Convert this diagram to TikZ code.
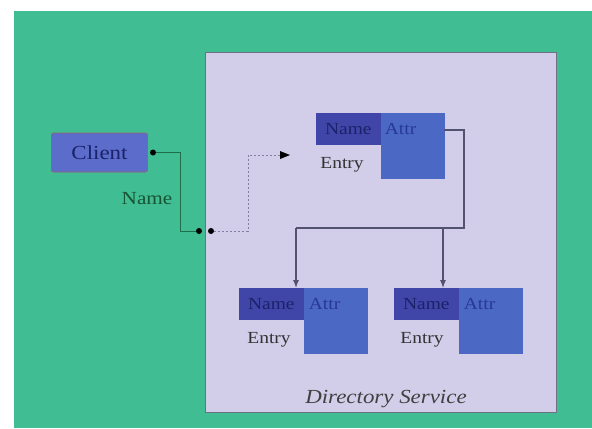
\documentclass[tikz,border=0pt]{standalone}
\usepackage{fontspec}
\setmainfont{Liberation Serif}[FakeStretch=1.15]
\usetikzlibrary{arrows.meta}

\definecolor{bggreen}{RGB}{65,189,147}
\definecolor{panel}{RGB}{210,205,232}
\definecolor{panelrim}{RGB}{112,112,132}
\definecolor{namefill}{RGB}{64,70,168}
\definecolor{attrfill}{RGB}{74,104,196}
\definecolor{clientfill}{RGB}{91,108,203}
\definecolor{clientrim}{RGB}{150,100,110}
\definecolor{navytext}{RGB}{26,34,105}
\definecolor{attrtext}{RGB}{40,56,150}
\definecolor{linkgreen}{RGB}{30,110,76}
\definecolor{labelgreen}{RGB}{22,84,52}
\definecolor{treeline}{RGB}{82,82,110}
\definecolor{dashgray}{RGB}{128,128,160}

\tikzset{
  namebox/.style={draw=namefill, line width=0.6bp, fill=namefill, minimum width=64bp, minimum height=31bp,
    inner sep=0pt, font=\fontsize{17}{17}\selectfont, text=navytext},
  attrbox/.style={draw=attrfill, line width=0.6bp, fill=attrfill, minimum width=63bp, minimum height=65bp,
    inner sep=0pt},
  attrlabel/.style={font=\fontsize{17}{17}\selectfont, text=attrtext, inner sep=0pt},
  entrylabel/.style={font=\fontsize{17}{17}\selectfont, text=black!80, inner sep=0pt},
  clientbox/.style={draw=clientrim, line width=0.8bp, fill=clientfill, rounded corners=2bp,
    minimum width=96bp, minimum height=39bp, inner sep=0pt,
    font=\fontsize{20}{20}\selectfont, text=navytext},
  blob/.style={circle, fill=black, inner sep=0pt, minimum size=6bp},
  treelink/.style={draw=treeline, line width=1.1bp},
  treearrow/.style={treelink, -{Latex[length=8bp,width=6bp]}},
  greenlink/.style={draw=linkgreen, line width=0.8bp},
  querylink/.style={draw=dashgray, line width=0.9bp, dash pattern=on 2bp off 2bp}
}

\begin{document}
\begin{tikzpicture}[x=1bp, y=-1bp]
  \useasboundingbox (0,0) rectangle (592,428);

  % background and directory panel
  \fill[bggreen] (14,11) rectangle (592,428);
  \draw[fill=panel, draw=panelrim, line width=1bp] (205.5,52) rectangle (556,412);
  \node[font=\itshape\fontsize{20}{20}\selectfont, text=black!75] (dirlabel) at (386,399) {Directory Service};

  % client
  \node[clientbox] (client) at (99.5,152.5) {Client};

  % top entry
  \node[namebox, anchor=north west] (name1) at (316,113) {Name};
  \node[attrbox, anchor=north west] (attr1) at (name1.north east) {};
  \node[attrlabel] (attrtxt1) at ([xshift=20bp]name1.east) {Attr};
  \node[entrylabel] (entry1) at (342,165) {Entry};

  % lower left entry
  \node[namebox, anchor=north west] (name2) at (239,288) {Name};
  \node[attrbox, anchor=north west] (attr2) at (name2.north east) {};
  \node[attrlabel] (attrtxt2) at ([xshift=21bp]name2.east) {Attr};
  \node[entrylabel] (entry2) at (269,340) {Entry};

  % lower right entry
  \node[namebox, anchor=north west] (name3) at (394,288) {Name};
  \node[attrbox, anchor=north west] (attr3) at (name3.north east) {};
  \node[attrlabel] (attrtxt3) at ([xshift=21bp]name3.east) {Attr};
  \node[entrylabel] (entry3) at (422,340) {Entry};

  % name lookup from the client
  \node[blob] (cdot) at (153,152.5) {};
  \node[blob] (ndot1) at (199,231) {};
  \node[blob] (ndot2) at (211,231) {};
  \coordinate (qend) at (290,155);
  \coordinate (gcorner) at (180,152.5);
  \draw[greenlink] (cdot) -- (gcorner) -- (gcorner |- ndot1) -- (ndot1);
  \node[font=\fontsize{18.5}{18.5}\selectfont, text=labelgreen] (namelabel) at (147,199) {Name};
  \draw[querylink] (ndot2) -- (248,231) -- (248,155) -- (qend);
  \fill[black] (qend) -- ++(-10,-4) -- ++(0,8) -- cycle;

  % tree links between entries
  \coordinate (tr) at (464,130);
  \coordinate (br) at (464,228);
  \draw[treelink] (attr1.east |- tr) -- (tr) -- (br) -- (296,228);
  \draw[treearrow] (296,228) -- (name2.north -| 296,0);
  \draw[treearrow] (443,228) -- (name3.north -| 443,0);
\end{tikzpicture}
\end{document}
